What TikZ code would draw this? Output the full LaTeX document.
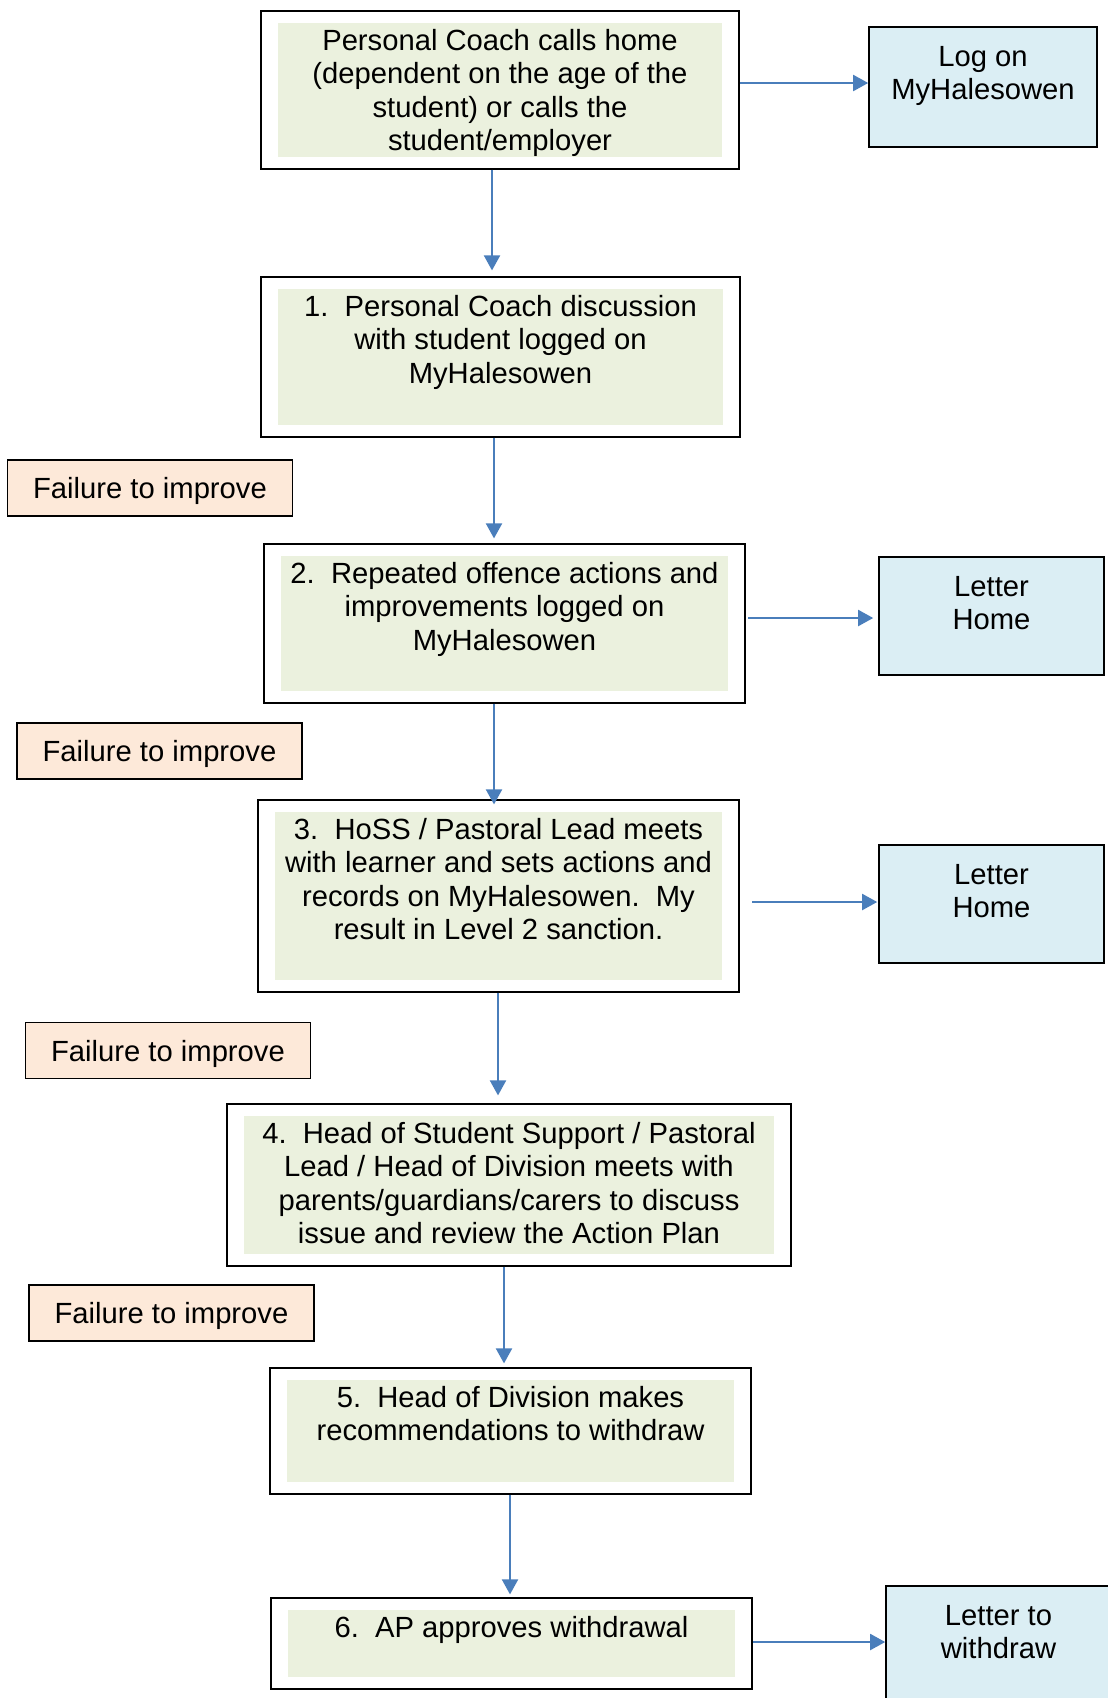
\documentclass[tikz,border=0pt]{standalone}
\usepackage{fontspec}
\setmainfont{Liberation Sans}
\usepackage{xcolor}
\usepackage{tikz}
\usetikzlibrary{arrows.meta, positioning, fit}

\definecolor{panelgreen}{HTML}{EBF1DE}
\definecolor{sideblue}{HTML}{DBEEF4}
\definecolor{failpeach}{HTML}{FDE9D9}
\definecolor{arrowblue}{HTML}{4A7EBB}

\begin{document}
\begin{tikzpicture}[
    x=0.5pt, y=-0.5pt,
    every node/.style={font=\fontsize{14.6pt}{16.8pt}\selectfont},
    panel/.style={rectangle, fill=panelgreen, inner sep=0pt},
    frame/.style={rectangle, draw, line width=1pt, inner xsep=8.3pt, inner ysep=5.6pt},
    steptext/.style={align=center, inner sep=0pt, anchor=north, yshift=-3pt},
    sidebox/.style={rectangle, draw, line width=0.8pt, fill=sideblue,
                    minimum width=112.5pt, minimum height=59pt, inner sep=0pt},
    sidetext/.style={align=center, inner sep=0pt, anchor=north, yshift=-9.7pt},
    failbox/.style={rectangle, draw, line width=0.8pt, fill=failpeach,
                    minimum width=142.5pt, minimum height=28pt, inner sep=0pt,
                    text height=13.7pt, text depth=3.1pt},
    arr/.style={-{Triangle[length=7.5pt, width=8pt]}, color=arrowblue, line width=1pt}
]
    \useasboundingbox (0,0) rectangle (1108,1698);

    % Step boxes
    \node[panel, minimum width=222pt, minimum height=67pt] (pcoach) at (500,90) {};
    \node[steptext] (tcoach) at (pcoach.north) {Personal Coach calls home\\(dependent on the age of the\\student) or calls the\\student/employer};
    \node[frame, fit=(pcoach)] (coach) {};

    \node[panel, minimum width=222.5pt, minimum height=68pt] (pdiscuss) at (500.5,357) {};
    \node[steptext] (tdiscuss) at (pdiscuss.north) {1.~~Personal Coach discussion\\with student logged on\\MyHalesowen};
    \node[frame, fit=(pdiscuss)] (discuss) {};

    \node[panel, minimum width=223.5pt, minimum height=67.5pt] (prepeat) at (504.5,623.5) {};
    \node[steptext] (trepeat) at (prepeat.north) {2.~~Repeated offence actions and\\improvements logged on\\MyHalesowen};
    \node[frame, fit=(prepeat)] (repeat) {};

    \node[panel, minimum width=223.5pt, minimum height=84pt] (phoss) at (498.5,896) {};
    \node[steptext] (thoss) at (phoss.north) {3.~~HoSS / Pastoral Lead meets\\with learner and sets actions and\\records on MyHalesowen.~~My\\result in Level 2 sanction.};
    \node[frame, fit=(phoss)] (hoss) {};

    \node[panel, minimum width=265pt, minimum height=69pt] (pmeet) at (509,1185) {};
    \node[steptext] (tmeet) at (pmeet.north) {4.~~Head of Student Support / Pastoral\\Lead / Head of Division meets with\\parents/guardians/carers to discuss\\issue and review the Action Plan};
    \node[frame, fit=(pmeet)] (meet) {};

    \node[panel, minimum width=223.5pt, minimum height=51pt] (precommend) at (510.5,1431) {};
    \node[steptext] (trecommend) at (precommend.north) {5.~~Head of Division makes\\recommendations to withdraw};
    \node[frame, fit=(precommend)] (recommend) {};

    \node[panel, minimum width=223.5pt, minimum height=33.5pt] (papprove) at (511.5,1643.5) {};
    \node[steptext] (tapprove) at (papprove.north) {6.~~AP approves withdrawal};
    \node[frame, fit=(papprove)] (approve) {};

    % Side boxes
    \node[sidebox, minimum width=114pt, minimum height=60pt] (logon) at (983,87) {};
    \node[sidetext] (tlogon) at (logon.north) {Log on\\MyHalesowen};
    \node[sidebox] (lettera) at (991.5,616) {};
    \node[sidetext] (tlettera) at (lettera.north) {Letter\\Home};
    \node[sidebox] (letterb) at (991.5,904) {};
    \node[sidetext] (tletterb) at (letterb.north) {Letter\\Home};
    \node[sidebox] (withdraw) at (998.5,1645) {};
    \node[sidetext] (twithdraw) at (withdraw.north) {Letter to\\withdraw};

    % Failure labels
    \node[failbox] (failA) at (150,488) {Failure to improve};
    \node[failbox] (failB) at (159.5,751) {Failure to improve};
    \node[failbox] (failC) at (168,1050.5) {Failure to improve};
    \node[failbox] (failD) at (171.5,1313) {Failure to improve};

    % Down the chain
    \draw[arr, shorten >=3pt] ([xshift=-4pt]coach.south) -- ([xshift=-4.25pt]discuss.north);
    \draw[arr, shorten >=2.5pt] ([xshift=-3.25pt]discuss.south) -- ([xshift=-5.25pt]repeat.north);
    \draw[arr, shorten >=-2.5pt] ([xshift=-5.25pt]repeat.south) -- ([xshift=-2.25pt]hoss.north);
    \draw[arr, shorten >=4pt] ([xshift=-0.25pt]hoss.south) -- ([xshift=-5.5pt]meet.north);
    \draw[arr, shorten >=2pt] ([xshift=-2.5pt]meet.south) -- ([xshift=-3.25pt]recommend.north);
    \draw[arr, shorten >=1.5pt] ([xshift=-0.25pt]recommend.south) -- ([xshift=-0.75pt]approve.north);

    % Out to the side
    \draw[arr] ([yshift=3.5pt]coach.east) -- ([yshift=2pt]logon.west);
    \draw[arr, shorten <=1pt, shorten >=2.5pt] ([yshift=2.75pt]repeat.east) -- ([yshift=-1pt]lettera.west);
    \draw[arr, shorten <=6pt, shorten >=0.5pt] ([yshift=-3pt]hoss.east) -- ([yshift=1pt]letterb.west);
    \draw[arr] ([yshift=0.75pt]approve.east) -- ([yshift=1.5pt]withdraw.west);
\end{tikzpicture}
\end{document}
